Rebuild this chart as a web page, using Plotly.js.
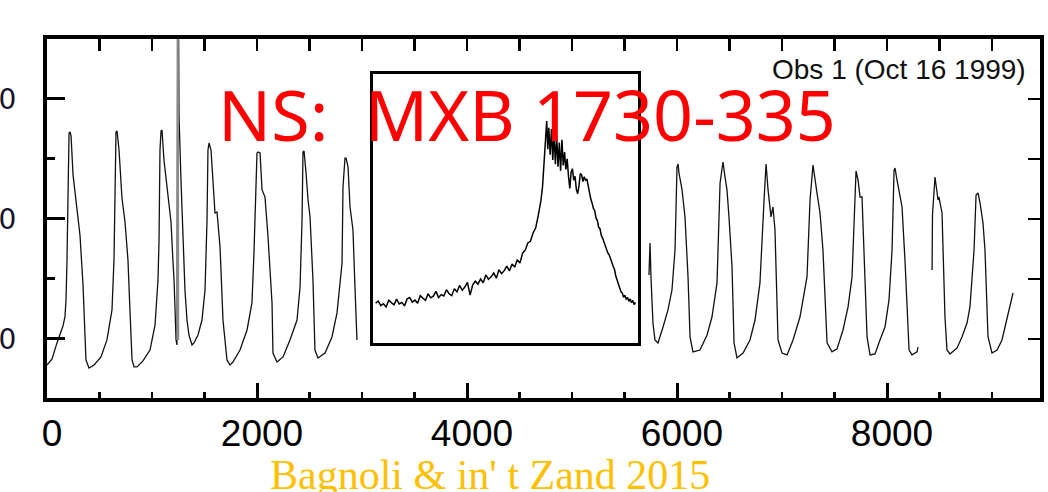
<!DOCTYPE html>
<html>
<head>
<meta charset="utf-8">
<script src="https://cdn.plot.ly/plotly-3.0.1.min.js"></script>
<style>html,body{margin:0;padding:0;background:#fff;}#chart{width:1048px;height:492px;}</style>
</head>
<body>
<div id="chart"></div>
<script>
// ---- Main light curve (time in s, count rate) ----
const seg1Time = [0,48,95,124,152,171,181,190,200,210,219,229,248,276,314,343,362,371,400,448,514,571,619,638,657,667,
  686,705,714,743,771,790,810,829,857,914,981,1029,1057,1067,1076,1086,1095,
  1114,1143,1181,1200,1210,1229,1238,1248,1257,1276,1295,1314,1333,1352,1381,
  1400,1438,1476,1505,1524,1533,1543,
  1562,1581,1600,1619,1648,1676,1714,1743,1771,1838,1905,1952,1971,2000,2010,
  2029,2048,2076,2105,2143,2152,2190,2248,2314,2381,2410,2429,2438,2448,
  2467,2486,2505,2533,2552,2581,2648,2714,2762,2810,2819,2838,2848,
  2867,2886,2914,2933,2952];
const seg1Rate = [783,833,967,1033,1108,1183,1325,1633,2325,2717,2725,2692,2367,2175,1867,1450,1075,825,758,783,850,992,1242,1658,2725,2733,
  2575,2242,2175,1975,1658,1242,825,767,767,817,908,1117,1492,1825,2575,2733,2742,
  2492,2242,1975,1642,1492,992,950,4500,2867,2325,1825,1408,1158,1033,950,
  967,1033,1158,1408,1992,2575,2633,
  2575,2325,2050,2058,1767,1158,825,783,808,908,1075,1300,1717,2550,2558,
  2550,2242,2183,1850,1300,883,808,850,992,1158,1433,1992,2558,2567,
  2383,2158,2017,1492,908,842,883,1017,1217,1633,2267,2508,2508,
  2433,2100,1908,1433,992];
const seg2Time = [5733,5743,5752,5771,5790,5819,5867,5914,5952,5981,6000,6010,6019,6048,6076,6105,6124,6152,6219,6286,
  6333,6381,6410,6429,6438,6457,6476,6495,6524,6543,6571,6629,6695,6743,6790,6829,6848,6867,6895,6914,
  6933,6962,7000,7048,7105,7171,7238,7267,7295,7333,7362,7390,7429,7476,7524,7581,7629,7667,7686,7705,
  7724,7743,7762,7781,7810,7838,7886,7933,7981,8019,8048,8067,8076,8095,8114,8143,8171,8210,8238,8286,8295];
const seg2Rate = [1533,1800,1517,1133,992,967,1100,1242,1408,1742,2433,2458,2383,2242,2017,1517,1017,892,908,1033,
  1183,1467,2300,2425,2475,2350,2242,2017,1600,967,842,883,992,1158,1467,2158,2458,2242,2017,2100,
  1908,992,883,867,992,1183,1517,2158,2450,2217,2050,1742,967,892,917,1075,1267,1517,2017,2400,
  2325,2183,2183,1742,1017,867,875,992,1100,1325,1742,2408,2425,2325,2242,2100,1658,908,867,892,933];
const seg3Time = [8429,8433,8457,8476,8486,8495,8514,8524,8552,8571,8600,8667,8714,8762,8790,8829,8848,8867,8886,8914,8933,8962,9000,9048,9095,9143,9200];
const seg3Rate = [1575,2033,2350,2242,2158,2183,2075,2050,1183,908,875,925,1017,1133,1267,1742,2200,2217,2133,1967,1742,1017,883,908,992,1183,1383];
// type-I burst spike (grey)
const spikeTime = [1240,1245,1250];
const spikeRate = [992,4500,992];

// ---- Inset: zoom of one burst profile ----
const insetT = [0,1,2,3,4,5,6,7,8,9,10,11,12,13,14,15,16,17,18,19,20,21,22,23,24,25,26,27,28,29,30,31,32,33,34,35,36,37,38,39,40,41,42,43,44,45,46,47,48,49,50,51,52,53,54,55,56,57,58,59,60,61,62,
  63,63.6,64.2,64.7,65.2,65.6,66,66.5,67,67.5,68,68.5,69,69.5,70,70.5,71,71.5,72,72.5,73,73.5,74,74.5,75,75.5,76,76.5,77,77.5,78,78.5,79,79.5,80,80.5,81,81.5,82,82.5,83,83.5,84,84.5,85,85.5,86,86.5,87,87.5,88,88.5,89,89.5,90,90.5,91,91.5,92,92.5,93,93.5,94,94.5,95,95.5,96,96.5,97,97.5,98,98.5,99];
const insetRate = [14.8,15.6,13.9,14.6,13.4,15.9,15.0,14.2,16.3,14.5,15.1,13.8,16.4,16.9,15.2,16.0,14.8,17.6,16.7,15.9,18.3,16.8,17.4,19.2,16.9,18.0,17.5,19.8,18.3,17.6,20.2,19.0,21.4,19.6,20.8,22.5,17.8,21.6,23.0,21.9,23.8,22.4,25.3,23.7,24.6,26.0,24.1,27.2,25.8,26.9,28.6,26.8,29.4,28.2,31.0,29.7,33.4,34.5,37.2,37.8,40.9,42.8,47.5,
  53.0,58.0,66.0,76.0,82.5,72.0,80.0,70.0,79.5,68.0,78.0,66.5,77.0,65.5,74.5,64.0,75.5,66.0,71.0,64.5,68.5,62.0,57.5,63.5,64.8,60.5,62.0,57.0,55.5,58.5,63.0,62.5,60.0,61.8,60.5,61.0,58.0,55.0,53.5,52.0,50.0,49.2,46.5,45.5,43.0,42.5,40.0,39.0,37.5,36.5,35.0,33.5,32.8,31.0,30.0,28.5,27.5,25.0,23.5,21.8,20.5,19.0,18.6,17.0,17.8,16.2,16.9,15.5,16.4,15.0,15.8,14.3,15.1];

// ---- Axis settings ----
const xRange = [0, 9457];
const yRange = [508, 3500];
const xMajor = 2000, xMinor = 500;
const yMajor = 1000, yMinor = 500;

const mainX = seg1Time.concat([null], seg2Time, [null], seg3Time);
const mainY = seg1Rate.concat([null], seg2Rate, [null], seg3Rate);

const traces = [
  {x: mainX, y: mainY, type: 'scatter', mode: 'lines', line: {color: '#111', width: 1.3}, connectgaps: false, hoverinfo: 'skip', xaxis: 'x', yaxis: 'y'},
  {x: spikeTime, y: spikeRate, type: 'scatter', mode: 'lines', line: {color: '#8a8a8a', width: 2}, hoverinfo: 'skip', xaxis: 'x', yaxis: 'y'},
  {x: [], y: [], type: 'scatter', mode: 'lines', xaxis: 'x2', yaxis: 'y2', hoverinfo: 'skip'},
  {x: insetT, y: insetRate, type: 'scatter', mode: 'lines', line: {color: '#000', width: 1.5}, hoverinfo: 'skip', xaxis: 'x3', yaxis: 'y3'}
];

const layout = {
  width: 1048, height: 492,
  margin: {l: 47, r: 8, t: 39, b: 94},
  paper_bgcolor: '#fff', plot_bgcolor: 'rgba(0,0,0,0)',
  showlegend: false,
  font: {family: 'Liberation Sans, Arial, sans-serif', color: '#000'},
  xaxis: {
    range: xRange, tick0: 0, dtick: xMajor, ticks: 'inside', ticklen: 15, tickwidth: 3, tickcolor: '#000',
    minor: {dtick: xMinor, tick0: 0, ticks: 'inside', ticklen: 6, tickwidth: 2.5, tickcolor: '#000', showgrid: false},
    showline: true, linewidth: 4, linecolor: '#000', showgrid: false, zeroline: false,
    tickfont: {size: 37, family: 'Liberation Sans, Arial, sans-serif', color: '#000'},
    ticklabelstandoff: 0, ticklabelshift: 5
  },
  xaxis2: {
    overlaying: 'x', side: 'top', range: xRange, tick0: 0, dtick: xMinor, ticks: 'inside', ticklen: 12, tickwidth: 2.5, tickcolor: '#000',
    showticklabels: false, showline: true, linewidth: 4, linecolor: '#000', showgrid: false, zeroline: false
  },
  yaxis: {
    range: yRange, tick0: 0, dtick: yMajor, ticks: 'inside', ticklen: 18, tickwidth: 3, tickcolor: '#000',
    minor: {dtick: yMinor, tick0: 0, ticks: 'inside', ticklen: 8, tickwidth: 3, tickcolor: '#000', showgrid: false},
    showline: true, linewidth: 4, linecolor: '#000', showgrid: false, zeroline: false,
    tickfont: {size: 28, family: 'DejaVu Sans, sans-serif', color: '#14142a'},
    ticklabelstandoff: 21
  },
  yaxis2: {
    overlaying: 'y', side: 'right', range: yRange, tick0: 0, dtick: yMinor, ticks: 'inside', ticklen: 12, tickwidth: 2.5, tickcolor: '#000',
    showticklabels: false, showline: true, linewidth: 4, linecolor: '#000', showgrid: false, zeroline: false
  },
  xaxis3: {
    domain: [0.3283, 0.5952], anchor: 'y3', range: [-1, 100], showline: true, mirror: true, linewidth: 3, linecolor: '#000',
    ticks: '', showticklabels: false, showgrid: false, zeroline: false
  },
  yaxis3: {
    domain: [0.1532, 0.9025], anchor: 'x3', range: [0, 100], showline: true, mirror: true, linewidth: 3, linecolor: '#000',
    ticks: '', showticklabels: false, showgrid: false, zeroline: false
  },
  annotations: [
    {xref: 'paper', yref: 'paper', x: 0.4834, y: 0.79, xanchor: 'center', yanchor: 'middle', showarrow: false,
     text: 'NS:&nbsp;&nbsp;MXB 1730-335', font: {family: 'Noto Sans, DejaVu Sans, sans-serif', size: 70, color: '#ff0000'}},
    {xref: 'paper', yref: 'paper', x: 0.988, y: 0.916, xanchor: 'right', yanchor: 'middle', showarrow: false,
     text: 'Obs 1 (Oct 16 1999)', font: {family: 'Liberation Sans, Arial, sans-serif', size: 28, color: '#111'}},
    {xref: 'paper', yref: 'paper', x: 0.446, y: -0.215, xanchor: 'center', yanchor: 'middle', showarrow: false,
     text: "Bagnoli &amp; in' t Zand 2015", font: {family: 'Liberation Serif, Times New Roman, serif', size: 42, color: '#ffc000'}}
  ]
};

Plotly.newPlot('chart', traces, layout, {displayModeBar: false, staticPlot: true});
</script>
</body>
</html>
